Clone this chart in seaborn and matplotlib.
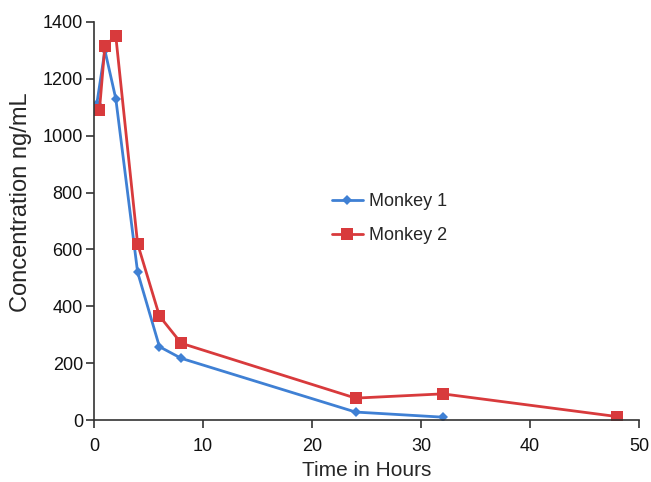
import matplotlib
matplotlib.use("Agg")
import matplotlib.pyplot as plt
import seaborn as sns
import pandas as pd

monkey1_time = [0.25, 1, 2, 4, 6, 8, 24, 32]
monkey1_conc = [1110, 1300, 1130, 520, 258, 217, 28, 10]
monkey2_time = [0.5, 1, 2, 4, 6, 8, 24, 32, 48]
monkey2_conc = [1090, 1316, 1350, 620, 366, 270, 77, 92, 12]
series_names = ["Monkey 1", "Monkey 2"]
x_ticks = [0, 10, 20, 30, 40, 50]
y_ticks = [0, 200, 400, 600, 800, 1000, 1200, 1400]

df = pd.concat([
    pd.DataFrame({"Time": monkey1_time, "Conc": monkey1_conc, "Series": series_names[0]}),
    pd.DataFrame({"Time": monkey2_time, "Conc": monkey2_conc, "Series": series_names[1]}),
])

sns.set_style("ticks")
plt.rcParams["font.family"] = ["Liberation Sans", "DejaVu Sans"]

fig = plt.figure(figsize=(6.51, 4.82), dpi=100)
ax = fig.add_axes([0.1444, 0.1286, 0.8372, 0.8258])

palette = {"Monkey 1": "#3f80d4", "Monkey 2": "#d83a3c"}
markers = {"Monkey 1": "D", "Monkey 2": "s"}
for name in series_names:
    sub = df[df["Series"] == name]
    sns.lineplot(data=sub, x="Time", y="Conc", ax=ax, color=palette[name],
                 marker=markers[name], markersize=5 if name == "Monkey 1" else 8,
                 markeredgewidth=0, linewidth=2, label=name, sort=False)

ax.set_xlim(0, 50)
ax.set_ylim(0, 1400)
ax.set_xticks(x_ticks)
ax.set_yticks(y_ticks)
ax.tick_params(labelsize=13, length=6, width=1.2, color="#333333", direction="out",
               labelcolor="#111111")
ax.tick_params(axis="y", pad=2)
ax.tick_params(axis="x", pad=7)
for s in ["left", "bottom"]:
    ax.spines[s].set_linewidth(1.2)
    ax.spines[s].set_color("#333333")
sns.despine(ax=ax)
ax.set_xlabel("Time in Hours", fontsize=15, labelpad=4)
ax.set_ylabel("Concentration ng/mL", fontsize=17)
ax.yaxis.set_label_coords(-0.113, 0.546)

ax.legend(loc="center left", bbox_to_anchor=(332 / 651, 1 - 218.5 / 482),
          bbox_transform=fig.transFigure, frameon=False, borderpad=0,
          borderaxespad=0, fontsize=13, handlelength=1.7, handletextpad=0.35,
          labelspacing=0.95)

fig.savefig("out.png", dpi=100)
